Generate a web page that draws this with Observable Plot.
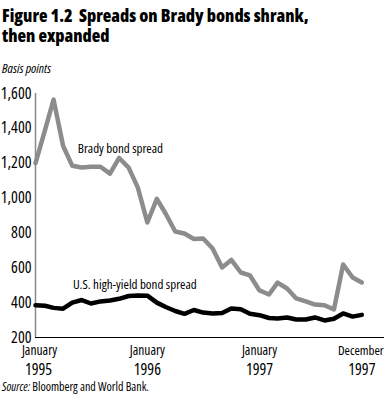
<!DOCTYPE html>
<html><head><meta charset="utf-8">
<script src="https://cdn.jsdelivr.net/npm/d3@7"></script>
<script src="https://cdn.jsdelivr.net/npm/@observablehq/plot@0.6"></script>
<style>
body{margin:0;background:#fff;width:384px;height:396px;position:relative;overflow:hidden;font-family:"Open Sans",sans-serif;font-stretch:75%;color:#000;}
#title{position:absolute;left:2px;top:5px;font-weight:800;font-size:17.6px;line-height:20px;white-space:nowrap;}
#unit{position:absolute;left:2px;top:59px;font-style:italic;font-size:13px;line-height:normal;}
#chart{position:absolute;left:0;top:80px;}
#source{position:absolute;left:2px;top:378px;font-size:12px;line-height:normal;white-space:nowrap;}
</style></head><body>
<div id="title">Figure 1.2&nbsp; Spreads on Brady bonds shrank,<br>then expanded</div>
<div id="unit">Basis points</div>
<div id="chart"></div>
<div id="source"><i>Source:</i> Bloomberg and World Bank.</div>
<script>
// Monthly observations, January 1995 – December 1997
const startYear = 1995;
const bradySpread = [1200,1390,1565,1300,1185,1175,1180,1180,1140,1230,1175,1060,
  860,995,910,808,797,765,768,711,602,645,573,556,
  470,447,515,481,424,407,389,385,361,619,544,516];
const highYieldSpread = [385,382,370,365,400,415,395,407,412,422,438,441,
  440,400,375,352,336,358,343,338,340,366,362,336,
  328,312,309,315,303,303,315,298,308,338,320,330];
const yTicks = [200,400,600,800,1000,1200,1400,1600];
const xTickMonths = [0,12,24,35];
const xTickMonthNames = ["January","January","January","December"];
const xTickYears = ["1995","1996","1997","1997"];

const monthDate = m => new Date(Date.UTC(startYear, m, 1));
const data = bradySpread.map((b, i) => ({date: monthDate(i), brady: b, hy: highYieldSpread[i]}));
const xTicks = xTickMonths.map(monthDate);
const nameOf = new Map(xTicks.map((d, i) => [+d, xTickMonthNames[i]]));
const yearOf = new Map(xTicks.map((d, i) => [+d, xTickYears[i]]));

const chart = Plot.plot({
  width: 384,
  height: 300,
  marginLeft: 35,
  marginRight: 0,
  marginTop: 13,
  marginBottom: 43,
  style: {fontFamily: '"Open Sans",sans-serif', fontStretch: "75%", background: "#fff", color: "#000", overflow: "visible"},
  x: {type: "utc", domain: [monthDate(0), new Date(Date.UTC(startYear, 37, 13))]},
  y: {domain: [200, 1600]},
  marks: [
    Plot.axisY({ticks: yTicks, tickFormat: d3.format(","), tickSize: 0, tickPadding: 4, fontSize: 16, label: null}),
    Plot.axisX({ticks: xTicks.slice(0, 1), tickFormat: d => nameOf.get(+d), tickSize: 0, tickPadding: 8, fontSize: 13.5, dx: 4, label: null}),
    Plot.axisX({ticks: xTicks.slice(1, 3), tickFormat: d => nameOf.get(+d), tickSize: 0, tickPadding: 8, fontSize: 13.5, label: null}),
    Plot.axisX({ticks: xTicks.slice(3), tickFormat: d => nameOf.get(+d), tickSize: 0, tickPadding: 8, fontSize: 13, dx: -1, label: null}),
    Plot.axisX({ticks: xTicks.slice(0, 1), tickFormat: d => yearOf.get(+d), tickSize: 0, tickPadding: 26, fontSize: 16, dx: 3, label: null}),
    Plot.axisX({ticks: xTicks.slice(1), tickFormat: d => yearOf.get(+d), tickSize: 0, tickPadding: 26, fontSize: 16, label: null}),
    Plot.ruleX([monthDate(0)], {y1: 200, y2: 1600, stroke: "#8a8a8a", strokeWidth: 1.5}),
    Plot.ruleY([200], {stroke: "#000", strokeWidth: 1}),
    Plot.line(data, {x: "date", y: "brady", stroke: "#8c8c8c", strokeWidth: 4.5}),
    Plot.line(data, {x: "date", y: "hy", stroke: "#000", strokeWidth: 4.5}),
    Plot.text(["Brady bond spread"], {x: new Date(Date.UTC(1995, 4, 19)), y: 1261, textAnchor: "start", lineAnchor: "bottom", fontSize: 13}),
    Plot.text(["U.S. high-yield bond spread"], {x: new Date(Date.UTC(1995, 4, 3)), y: 481, textAnchor: "start", lineAnchor: "bottom", fontSize: 13})
  ]
});
document.getElementById("chart").appendChild(chart);
</script>
</body></html>
